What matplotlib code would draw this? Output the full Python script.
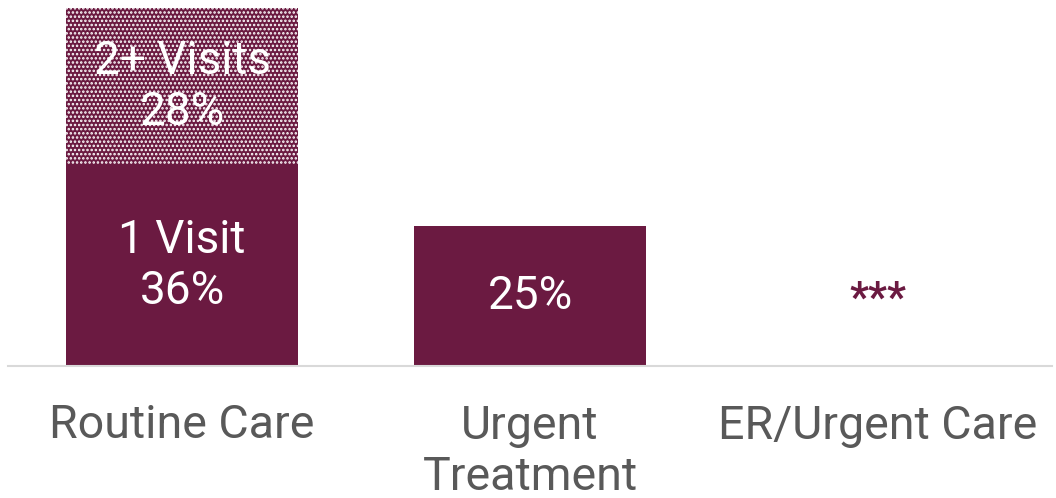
import matplotlib.pyplot as plt
import numpy as np

categories = ["Routine Care", "Urgent\nTreatment", "ER/Urgent Care"]
one_visit = [36, 25, 0]
two_plus = [28, 0, 0]
bar_labels = ["1 Visit\n36%", "25%", None]
top_labels = ["2+ Visits\n28%", None, None]
suppressed_label = "***"

maroon = "#6B1A41"
grey_text = "#595959"

plt.rcParams['font.family'] = ['Roboto', 'DejaVu Sans']
plt.rcParams['hatch.linewidth'] = 1.2

fig = plt.figure(figsize=(10.56, 4.98), dpi=100)
ax = fig.add_axes([8 / 1056, 132 / 498, 1044 / 1056, 358 / 498])

x = np.arange(len(categories))
width = 0.665

ax.bar(x[:2], one_visit[:2], width=width, color=maroon, linewidth=0)
ax.bar(x[:1], two_plus[:1], bottom=one_visit[:1], width=width, color=maroon,
       edgecolor="white", linewidth=0, hatch="....")

for i in range(len(categories)):
    if bar_labels[i]:
        ax.text(x[i], one_visit[i] / 2, bar_labels[i], ha="center", va="center",
                color="white", fontsize=33, linespacing=1.2)
    if top_labels[i]:
        ax.text(x[i], one_visit[i] + two_plus[i] / 2, top_labels[i], ha="center",
                va="center", color="white", fontsize=33, linespacing=1.2)

# no bar shown for ER/Urgent Care
ax.text(x[2], 12, suppressed_label, ha="center", va="center", color=maroon,
        fontsize=30, fontweight="bold")

ax.set_xlim(-0.5, 2.5)
ax.set_ylim(0, 64)
ax.set_xticks(x)
ax.set_xticklabels(categories, fontsize=33.5, color=grey_text, linespacing=1.2)
ax.tick_params(axis="x", length=0, pad=27)
ax.set_yticks([])
for side in ["top", "right", "left"]:
    ax.spines[side].set_visible(False)
ax.spines["bottom"].set_color("#d9d9d9")
ax.spines["bottom"].set_linewidth(1.5)

fig.savefig("out.png", dpi=100)
